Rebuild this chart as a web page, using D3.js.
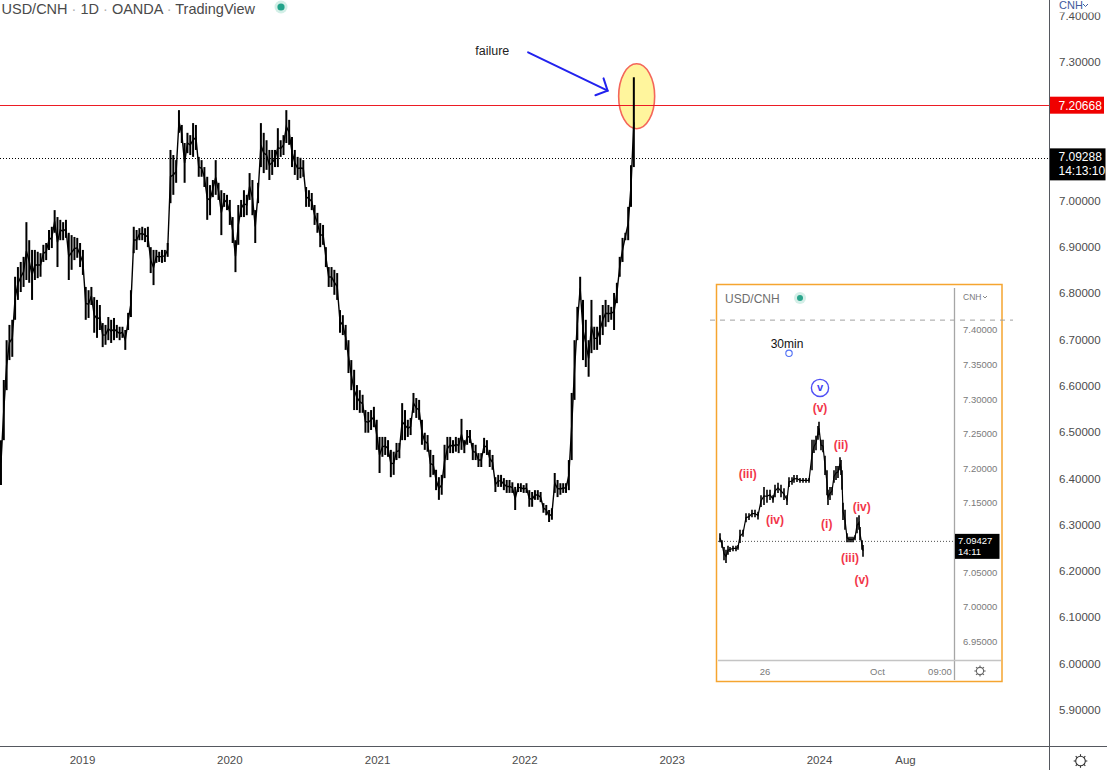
<!DOCTYPE html>
<html>
<head>
<meta charset="utf-8">
<script src="https://cdn.jsdelivr.net/npm/d3@7"></script>
<style>
  html, body { margin: 0; padding: 0; background: #fff; }
  svg { display: block; font-family: "Liberation Sans", Arial, sans-serif; }
</style>
</head>
<body>
<svg id="chart" width="1107" height="770"></svg>
<script>
// ---- daily chart: weekly high / low (one value per Wednesday) ----
const hi2018 = [6.483, 6.613, 6.699, 6.732, 6.743, 6.836, 6.857, 6.868, 6.879, 6.954, 6.915, 6.894, 6.894, 6.890, 6.887, 6.905, 6.909, 6.937, 6.944, 6.980, 6.965, 6.959, 6.954, 6.959, 6.931, 6.926, 6.922, 6.920, 6.909];
const lo2018 = [6.386, 6.483, 6.591, 6.656, 6.663, 6.743, 6.786, 6.803, 6.814, 6.829, 6.823, 6.786, 6.829, 6.833, 6.836, 6.868, 6.872, 6.894, 6.898, 6.931, 6.857, 6.915, 6.915, 6.920, 6.829, 6.851, 6.872, 6.877, 6.857];
const hi2019 = [6.894, 6.814, 6.807, 6.814, 6.792, 6.786, 6.775, 6.736, 6.732, 6.749, 6.743, 6.747, 6.732, 6.728, 6.728, 6.721, 6.758, 6.807, 6.944, 6.937, 6.941, 6.944, 6.941, 6.944, 6.900, 6.894, 6.894, 6.890, 6.894, 6.894, 6.909, 7.110, 7.099, 7.088, 7.196, 7.164, 7.125, 7.147, 7.142, 7.168, 7.164, 7.095, 7.088, 7.073, 7.052, 7.034, 7.045, 7.088, 7.039, 7.023, 7.017, 7.013];
const lo2019 = [6.840, 6.743, 6.747, 6.775, 6.715, 6.704, 6.721, 6.684, 6.689, 6.699, 6.693, 6.699, 6.704, 6.699, 6.704, 6.678, 6.721, 6.749, 6.887, 6.894, 6.915, 6.915, 6.911, 6.900, 6.844, 6.818, 6.866, 6.868, 6.866, 6.868, 6.879, 6.995, 7.013, 7.039, 7.147, 7.125, 7.039, 7.103, 7.099, 7.095, 7.110, 7.052, 7.052, 7.030, 6.959, 6.969, 7.008, 7.013, 7.002, 6.926, 6.987, 6.980];
const hi2020 = [7.002, 6.965, 6.915, 6.991, 7.002, 7.023, 7.013, 7.060, 7.045, 6.980, 7.039, 7.168, 7.147, 7.131, 7.110, 7.110, 7.110, 7.157, 7.131, 7.142, 7.196, 7.175, 7.138, 7.110, 7.095, 7.093, 7.088, 7.030, 7.023, 7.017, 6.991, 6.974, 6.952, 6.948, 6.900, 6.857, 6.857, 6.851, 6.844, 6.764, 6.753, 6.732, 6.699, 6.656, 6.635, 6.602, 6.591, 6.581, 6.548, 6.544, 6.548, 6.555, 6.527];
const lo2020 = [6.948, 6.909, 6.846, 6.905, 6.965, 6.965, 6.969, 7.002, 6.969, 6.909, 6.995, 7.073, 7.060, 7.067, 7.045, 7.056, 7.073, 7.073, 7.095, 7.099, 7.125, 7.121, 7.073, 7.056, 7.045, 7.049, 7.052, 6.987, 6.987, 6.980, 6.948, 6.931, 6.900, 6.905, 6.857, 6.814, 6.814, 6.797, 6.786, 6.715, 6.710, 6.678, 6.628, 6.591, 6.548, 6.548, 6.542, 6.542, 6.499, 6.499, 6.505, 6.511, 6.462];
const hi2021 = [6.490, 6.490, 6.490, 6.483, 6.462, 6.458, 6.477, 6.477, 6.563, 6.548, 6.527, 6.531, 6.585, 6.574, 6.570, 6.527, 6.499, 6.494, 6.462, 6.451, 6.419, 6.403, 6.408, 6.473, 6.490, 6.490, 6.483, 6.490, 6.488, 6.529, 6.483, 6.505, 6.505, 6.477, 6.473, 6.455, 6.455, 6.488, 6.483, 6.462, 6.451, 6.403, 6.408, 6.408, 6.401, 6.397, 6.397, 6.392, 6.382, 6.390, 6.390, 6.386];
const lo2021 = [6.412, 6.447, 6.451, 6.447, 6.403, 6.408, 6.440, 6.444, 6.483, 6.483, 6.490, 6.494, 6.542, 6.531, 6.527, 6.473, 6.462, 6.458, 6.403, 6.408, 6.375, 6.354, 6.365, 6.401, 6.440, 6.455, 6.455, 6.458, 6.455, 6.462, 6.455, 6.473, 6.477, 6.440, 6.440, 6.425, 6.425, 6.455, 6.451, 6.425, 6.419, 6.371, 6.382, 6.382, 6.375, 6.369, 6.369, 6.369, 6.332, 6.371, 6.371, 6.369];
const hi2022 = [6.390, 6.375, 6.371, 6.375, 6.375, 6.371, 6.347, 6.343, 6.332, 6.336, 6.412, 6.397, 6.390, 6.390, 6.390, 6.440, 6.585, 6.699, 6.771, 6.836, 6.786, 6.743, 6.699, 6.786, 6.728, 6.728, 6.753, 6.775, 6.786, 6.775, 6.771, 6.801, 6.823, 6.879, 6.920, 6.931, 6.987, 7.077, 7.267];
const lo2022 = [6.369, 6.339, 6.339, 6.354, 6.354, 6.349, 6.326, 6.321, 6.306, 6.311, 6.369, 6.360, 6.365, 6.369, 6.369, 6.375, 6.440, 6.570, 6.699, 6.786, 6.656, 6.641, 6.620, 6.671, 6.678, 6.678, 6.689, 6.710, 6.728, 6.738, 6.743, 6.721, 6.779, 6.836, 6.868, 6.915, 6.915, 6.987, 7.073];

const hi = [].concat(hi2018, hi2019, hi2020, hi2021, hi2022);
const lo = [].concat(lo2018, lo2019, lo2020, lo2021, lo2022);
const weeks = d3.timeWednesday.range(new Date(2018, 5, 13), new Date(2022, 8, 29));

const priceTicks = [5.9, 6.0, 6.1, 6.2, 6.3, 6.4, 6.5, 6.6, 6.7, 6.8, 6.9, 7.0, 7.1, 7.2, 7.3, 7.4];
const timeTicks = ["2019-01-01", "2020-01-01", "2021-01-01", "2022-01-01", "2023-01-01", "2024-01-01", "2024-08-01"];
const timeLabels = ["2019", "2020", "2021", "2022", "2023", "2024", "Aug"];

const resistance = 7.20668;
const lastPrice = 7.09288;
const countdown = "14:13:10";

// annotation anchors (date, price)
const failureText = { date: "2021-08-31", price: 7.315 };
const arrowFrom = { date: "2022-01-09", price: 7.321 };
const arrowTo = { date: "2022-07-25", price: 7.238 };
const circleAt = { date: "2022-10-05", price: 7.226 };

// ---- 30min inset: days from 26 Sep (00:00), high / low ----
const insetDay = [-1.80, -1.72, -1.64, -1.56, -1.48, -1.40, -1.28, -1.16, -1.08, -1.00, -0.88, -0.76, -0.64, -0.52, -0.40, -0.28, -0.16, -0.04, 0.08, 0.20, 0.32, 0.40, 0.52, 0.64, 0.76, 0.88, 0.96, 1.08, 1.16, 1.28, 1.40, 1.52, 1.64, 1.76, 1.88, 1.96, 2.04, 2.12, 2.16, 2.24, 2.32, 2.40, 2.48, 2.52, 2.60, 2.68, 2.76, 2.84, 2.92, 3.00, 3.04, 3.08, 3.12, 3.20, 3.28, 3.36, 3.44, 3.52, 3.60, 3.68, 3.76, 3.80, 3.88, 3.92];
const insetHi = [7.106, 7.096, 7.086, 7.082, 7.088, 7.086, 7.088, 7.088, 7.089, 7.111, 7.111, 7.135, 7.135, 7.140, 7.140, 7.137, 7.161, 7.173, 7.169, 7.169, 7.161, 7.176, 7.179, 7.176, 7.171, 7.161, 7.187, 7.187, 7.190, 7.190, 7.186, 7.186, 7.186, 7.186, 7.241, 7.241, 7.247, 7.261, 7.267, 7.241, 7.241, 7.218, 7.197, 7.169, 7.173, 7.173, 7.197, 7.203, 7.203, 7.216, 7.212, 7.197, 7.150, 7.140, 7.106, 7.101, 7.101, 7.101, 7.103, 7.129, 7.132, 7.115, 7.096, 7.089];
const insetLo = [7.093, 7.085, 7.067, 7.063, 7.075, 7.079, 7.080, 7.080, 7.082, 7.092, 7.101, 7.122, 7.125, 7.129, 7.129, 7.126, 7.144, 7.147, 7.150, 7.154, 7.150, 7.158, 7.164, 7.158, 7.154, 7.147, 7.173, 7.176, 7.179, 7.180, 7.179, 7.179, 7.179, 7.179, 7.197, 7.222, 7.226, 7.241, 7.248, 7.226, 7.223, 7.190, 7.161, 7.147, 7.154, 7.161, 7.179, 7.183, 7.186, 7.197, 7.190, 7.169, 7.125, 7.111, 7.093, 7.093, 7.093, 7.093, 7.096, 7.106, 7.111, 7.096, 7.082, 7.072];
const insetPriceTicks = [6.95, 7.00, 7.05, 7.10, 7.15, 7.20, 7.25, 7.30, 7.35, 7.40];
const insetTimeTicks = [0, 4.5, 7.0];
const insetTimeLabels = ["26", "Oct", "09:00"];
const insetLast = 7.09427;
const insetCountdown = "14:11";
const insetDashed = 7.414;
const waveLabels = [
    ["(iii)", -0.69, 7.191], ["(iv)", 0.40, 7.125], ["(v)", 2.20, 7.287], ["(i)", 2.47, 7.120],
    ["(ii)", 3.04, 7.233], ["(iv)", 3.87, 7.144], ["(iii)", 3.40, 7.070], ["(v)", 3.87, 7.038]
];
const waveCircle = ["v", 2.20, 7.316];
const tfLabel = ["30min", 0.88, 7.379];
const tfMarker = [0.96, 7.366];

// ---------------------------------------------------------------------
const svg = d3.select("#chart");
const W = 1107, H = 770;
const axisX = 1049.5, axisY = 746.5;
const textCol = "#4c4c4c";

svg.append("rect").attr("width", W).attr("height", H).attr("fill", "#fff");

const x = d3.scaleTime().domain([new Date(2019, 0, 1), new Date(2024, 0, 1)]).range([82.5, 819.5]);
const y = d3.scaleLinear().domain([5.9, 7.3]).range([710, 62]);
const parse = d3.timeParse("%Y-%m-%d");

svg.append("clipPath").attr("id", "plotClip")
    .append("rect").attr("x", 0).attr("y", 0).attr("width", axisX).attr("height", axisY);
const plot = svg.append("g").attr("clip-path", "url(#plotClip)");

// circle annotation sits under the bars
plot.append("ellipse")
    .attr("cx", x(parse(circleAt.date))).attr("cy", y(circleAt.price))
    .attr("rx", 18).attr("ry", 32.5)
    .attr("fill", "#fff59d").attr("stroke", "#f4665a").attr("stroke-width", 1.6);

// horizontal resistance line
plot.append("line")
    .attr("x1", 0).attr("x2", axisX)
    .attr("y1", Math.round(y(resistance)) + 0.5).attr("y2", Math.round(y(resistance)) + 0.5)
    .attr("stroke", "#ec1c24").attr("stroke-width", 1);

// last price dotted line
plot.append("line")
    .attr("x1", 0).attr("x2", axisX)
    .attr("y1", Math.round(y(lastPrice)) + 0.5).attr("y2", Math.round(y(lastPrice)) + 0.5)
    .attr("stroke", "#000").attr("stroke-width", 1).attr("stroke-dasharray", "1,2");

// price bars
const bars = weeks.map((d, i) => ({ date: d, hi: hi[i], lo: lo[i] })).filter(d => d.hi != null);

plot.append("path").datum(bars)
    .attr("d", d3.line().x(d => x(d.date)).y(d => y((d.hi + d.lo) / 2)))
    .attr("fill", "none").attr("stroke", "#000").attr("stroke-width", 1.4);

plot.selectAll("line.bar")
    .data(bars)
    .enter()
    .append("line")
    .attr("class", "bar")
    .attr("x1", d => x(d.date)).attr("x2", d => x(d.date))
    .attr("y1", d => y(d.hi)).attr("y2", d => y(d.lo))
    .attr("stroke", "#000").attr("stroke-width", 2);

// "failure" + arrow
plot.append("text")
    .attr("x", x(parse(failureText.date))).attr("y", y(failureText.price))
    .attr("font-size", 12.5).attr("fill", "#222").text("failure");

const ax1 = x(parse(arrowFrom.date)), ay1 = y(arrowFrom.price);
const ax2 = x(parse(arrowTo.date)), ay2 = y(arrowTo.price);
const ang = Math.atan2(ay2 - ay1, ax2 - ax1);
const headLen = 13, headAng = 46 * Math.PI / 180;
const arrow = plot.append("g").attr("stroke", "#2222ee").attr("stroke-width", 2).attr("fill", "none").attr("stroke-linecap", "round");
arrow.append("line").attr("x1", ax1).attr("y1", ay1).attr("x2", ax2).attr("y2", ay2);
arrow.append("path").attr("d",
    "M" + (ax2 - headLen * Math.cos(ang - headAng)) + "," + (ay2 - headLen * Math.sin(ang - headAng)) +
    "L" + ax2 + "," + ay2 +
    "L" + (ax2 - headLen * Math.cos(ang + headAng)) + "," + (ay2 - headLen * Math.sin(ang + headAng)));

// frame lines
svg.append("line").attr("x1", axisX).attr("x2", axisX).attr("y1", 0).attr("y2", H)
    .attr("stroke", "#55585f").attr("stroke-width", 1);
svg.append("line").attr("x1", 0).attr("x2", W).attr("y1", axisY).attr("y2", axisY)
    .attr("stroke", "#55585f").attr("stroke-width", 1);

// right price scale (ticks hidden behind a price label are skipped, as on screen)
const covered = v => Math.abs(y(v) - y(resistance)) < 12 || Math.abs(y(v) - y(lastPrice)) < 14;
svg.append("g").selectAll("text")
    .data(priceTicks.filter(v => !covered(v)))
    .enter()
    .append("text")
    .attr("x", 1059).attr("y", d => y(d) + 4)
    .attr("font-size", 11.5).attr("fill", textCol)
    .text(d => d3.format(".5f")(d));

// cover for the top scale label
svg.append("rect").attr("x", axisX + 0.5).attr("y", 0).attr("width", W - axisX).attr("height", 12.5).attr("fill", "#fff");
svg.append("text").attr("x", 1059).attr("y", 9).attr("font-size", 11).attr("fill", "#3f5a9c").text("CNH");
svg.append("path").attr("d", "M1083,4 L1085.5,6.5 L1088,4").attr("fill", "none").attr("stroke", "#3f5a9c").attr("stroke-width", 1);

// price labels
svg.append("rect").attr("x", axisX + 0.5).attr("y", y(resistance) - 8.5).attr("width", 54).attr("height", 17).attr("fill", "#f00000");
svg.append("text").attr("x", 1058.5).attr("y", y(resistance) + 4.5).attr("font-size", 12).attr("fill", "#fff").text(d3.format(".5f")(resistance));

svg.append("rect").attr("x", axisX + 0.5).attr("y", y(lastPrice) - 9.5).attr("width", 55.5).attr("height", 32).attr("fill", "#000");
svg.append("text").attr("x", 1058.5).attr("y", y(lastPrice) + 3).attr("font-size", 12).attr("fill", "#fff").text(d3.format(".5f")(lastPrice));
svg.append("text").attr("x", 1058.5).attr("y", y(lastPrice) + 17).attr("font-size", 12).attr("fill", "#fff").text(countdown);

// time scale
svg.append("g").selectAll("text")
    .data(timeTicks)
    .enter()
    .append("text")
    .attr("x", d => x(parse(d))).attr("y", 764)
    .attr("text-anchor", "middle").attr("font-size", 11.5).attr("fill", textCol)
    .text((d, i) => timeLabels[i]);

// settings icon
function gear(g, cx, cy, r, col) {
    g.append("circle").attr("cx", cx).attr("cy", cy).attr("r", r).attr("fill", "none").attr("stroke", col).attr("stroke-width", 1.1);
    for (let k = 0; k < 8; k++) {
        const a = k * Math.PI / 4;
        g.append("line")
            .attr("x1", cx + r * Math.cos(a)).attr("y1", cy + r * Math.sin(a))
            .attr("x2", cx + (r + 2) * Math.cos(a)).attr("y2", cy + (r + 2) * Math.sin(a))
            .attr("stroke", col).attr("stroke-width", 1.1);
    }
}
gear(svg, 1080.5, 761, 4.8, "#333");

// legend
const legend = svg.append("text").attr("x", 1.5).attr("y", 13.5).attr("font-size", 14.5).attr("fill", "#4a4a4a");
["USD/CNH", "1D", "OANDA", "TradingView"].forEach((t, i) => {
    if (i > 0) legend.append("tspan").attr("fill", "#b0b0b0").text(" \u00b7 ");
    legend.append("tspan").text(t);
});
svg.append("circle").attr("cx", 281).attr("cy", 7).attr("r", 6.5).attr("fill", "#d3efe7");
svg.append("circle").attr("cx", 281).attr("cy", 7).attr("r", 3.6).attr("fill", "#22a38a");

// ---------------------------------------------------------------------
// 30min inset
const inset = svg.append("g");
const ix = d3.scaleLinear().domain([0, 1]).range([765, 790]);
const iy = d3.scaleLinear().domain([6.95, 7.40]).range([641.2, 329.8]);
const insetRight = 954.5, insetBottom = 660.5;

inset.append("rect").attr("x", 716.5).attr("y", 284.5).attr("width", 285.5).attr("height", 397)
    .attr("fill", "#fff").attr("stroke", "#f5a530").attr("stroke-width", 1.5);

inset.append("line").attr("x1", 710).attr("x2", 1013)
    .attr("y1", iy(insetDashed)).attr("y2", iy(insetDashed))
    .attr("stroke", "#a0a0a0").attr("stroke-width", 1).attr("stroke-dasharray", "5,5");

inset.append("line").attr("x1", insetRight).attr("x2", insetRight).attr("y1", 288).attr("y2", 680)
    .attr("stroke", "#a6a6a6").attr("stroke-width", 1.3);
inset.append("line").attr("x1", 718).attr("x2", 1001).attr("y1", insetBottom).attr("y2", insetBottom)
    .attr("stroke", "#c4c4c4").attr("stroke-width", 1.3);

inset.append("text").attr("x", 725).attr("y", 302.5).attr("font-size", 12).attr("fill", "#6e6e6e").text("USD/CNH");
inset.append("circle").attr("cx", 800).attr("cy", 298).attr("r", 6).attr("fill", "#d5efe8");
inset.append("circle").attr("cx", 800).attr("cy", 298).attr("r", 3).attr("fill", "#2aa58c");
inset.append("text").attr("x", 963).attr("y", 299.5).attr("font-size", 8.5).attr("fill", "#7a7a7a").text("CNH");
inset.append("path").attr("d", "M983,296 L985,298 L987,296").attr("fill", "none").attr("stroke", "#7a7a7a").attr("stroke-width", 0.9);

inset.append("g").selectAll("text")
    .data(insetPriceTicks.filter(v => Math.abs(iy(v) - iy(insetLast)) > 14))
    .enter()
    .append("text")
    .attr("x", 963).attr("y", d => iy(d) + 3.5)
    .attr("font-size", 9.5).attr("fill", "#7a7a7a")
    .text(d => d3.format(".5f")(d));

inset.append("g").selectAll("text")
    .data(insetTimeTicks)
    .enter()
    .append("text")
    .attr("x", d => ix(d)).attr("y", 674.5)
    .attr("text-anchor", "middle").attr("font-size", 9.5).attr("fill", "#7a7a7a")
    .text((d, i) => insetTimeLabels[i]);
gear(inset, 980, 671, 3.6, "#666");

inset.append("line").attr("x1", 718).attr("x2", insetRight)
    .attr("y1", iy(insetLast)).attr("y2", iy(insetLast))
    .attr("stroke", "#222").attr("stroke-width", 0.8).attr("stroke-dasharray", "1,2");

inset.append("rect").attr("x", insetRight + 0.5).attr("y", iy(insetLast) - 7.5).attr("width", 44.5).attr("height", 25).attr("fill", "#000");
inset.append("text").attr("x", 958).attr("y", iy(insetLast) + 3).attr("font-size", 9.5).attr("fill", "#fff").text(d3.format(".5f")(insetLast));
inset.append("text").attr("x", 958).attr("y", iy(insetLast) + 14).attr("font-size", 9.5).attr("fill", "#fff").text(insetCountdown);

const ibars = insetDay.map((d, i) => ({ day: d, hi: insetHi[i], lo: insetLo[i] }));
inset.append("path").datum(ibars)
    .attr("d", d3.line().x(d => ix(d.day)).y(d => iy((d.hi + d.lo) / 2)))
    .attr("fill", "none").attr("stroke", "#000").attr("stroke-width", 1.2);
inset.selectAll("line.ibar")
    .data(ibars)
    .enter()
    .append("line")
    .attr("class", "ibar")
    .attr("x1", d => ix(d.day)).attr("x2", d => ix(d.day))
    .attr("y1", d => iy(d.hi)).attr("y2", d => iy(d.lo))
    .attr("stroke", "#000").attr("stroke-width", 1.6);

// elliott wave labels
inset.selectAll("text.wave")
    .data(waveLabels)
    .enter()
    .append("text")
    .attr("class", "wave")
    .attr("x", d => ix(d[1])).attr("y", d => iy(d[2]) + 4)
    .attr("text-anchor", "middle").attr("font-size", 12).attr("font-weight", "bold")
    .attr("fill", "#f2364a")
    .text(d => d[0]);

inset.append("circle").attr("cx", ix(waveCircle[1])).attr("cy", iy(waveCircle[2])).attr("r", 8.6)
    .attr("fill", "#fff").attr("stroke", "#4f4ff5").attr("stroke-width", 1.4);
inset.append("text").attr("x", ix(waveCircle[1])).attr("y", iy(waveCircle[2]) + 3.5)
    .attr("text-anchor", "middle").attr("font-size", 11).attr("font-weight", "bold").attr("fill", "#4040f0")
    .text(waveCircle[0]);

inset.append("text").attr("x", ix(tfLabel[1])).attr("y", iy(tfLabel[2]) + 4)
    .attr("text-anchor", "middle").attr("font-size", 12).attr("fill", "#111").text(tfLabel[0]);
inset.append("circle").attr("cx", ix(tfMarker[0])).attr("cy", iy(tfMarker[1])).attr("r", 3.2)
    .attr("fill", "#fff").attr("stroke", "#4f6ff5").attr("stroke-width", 1.1);
</script>
</body>
</html>
